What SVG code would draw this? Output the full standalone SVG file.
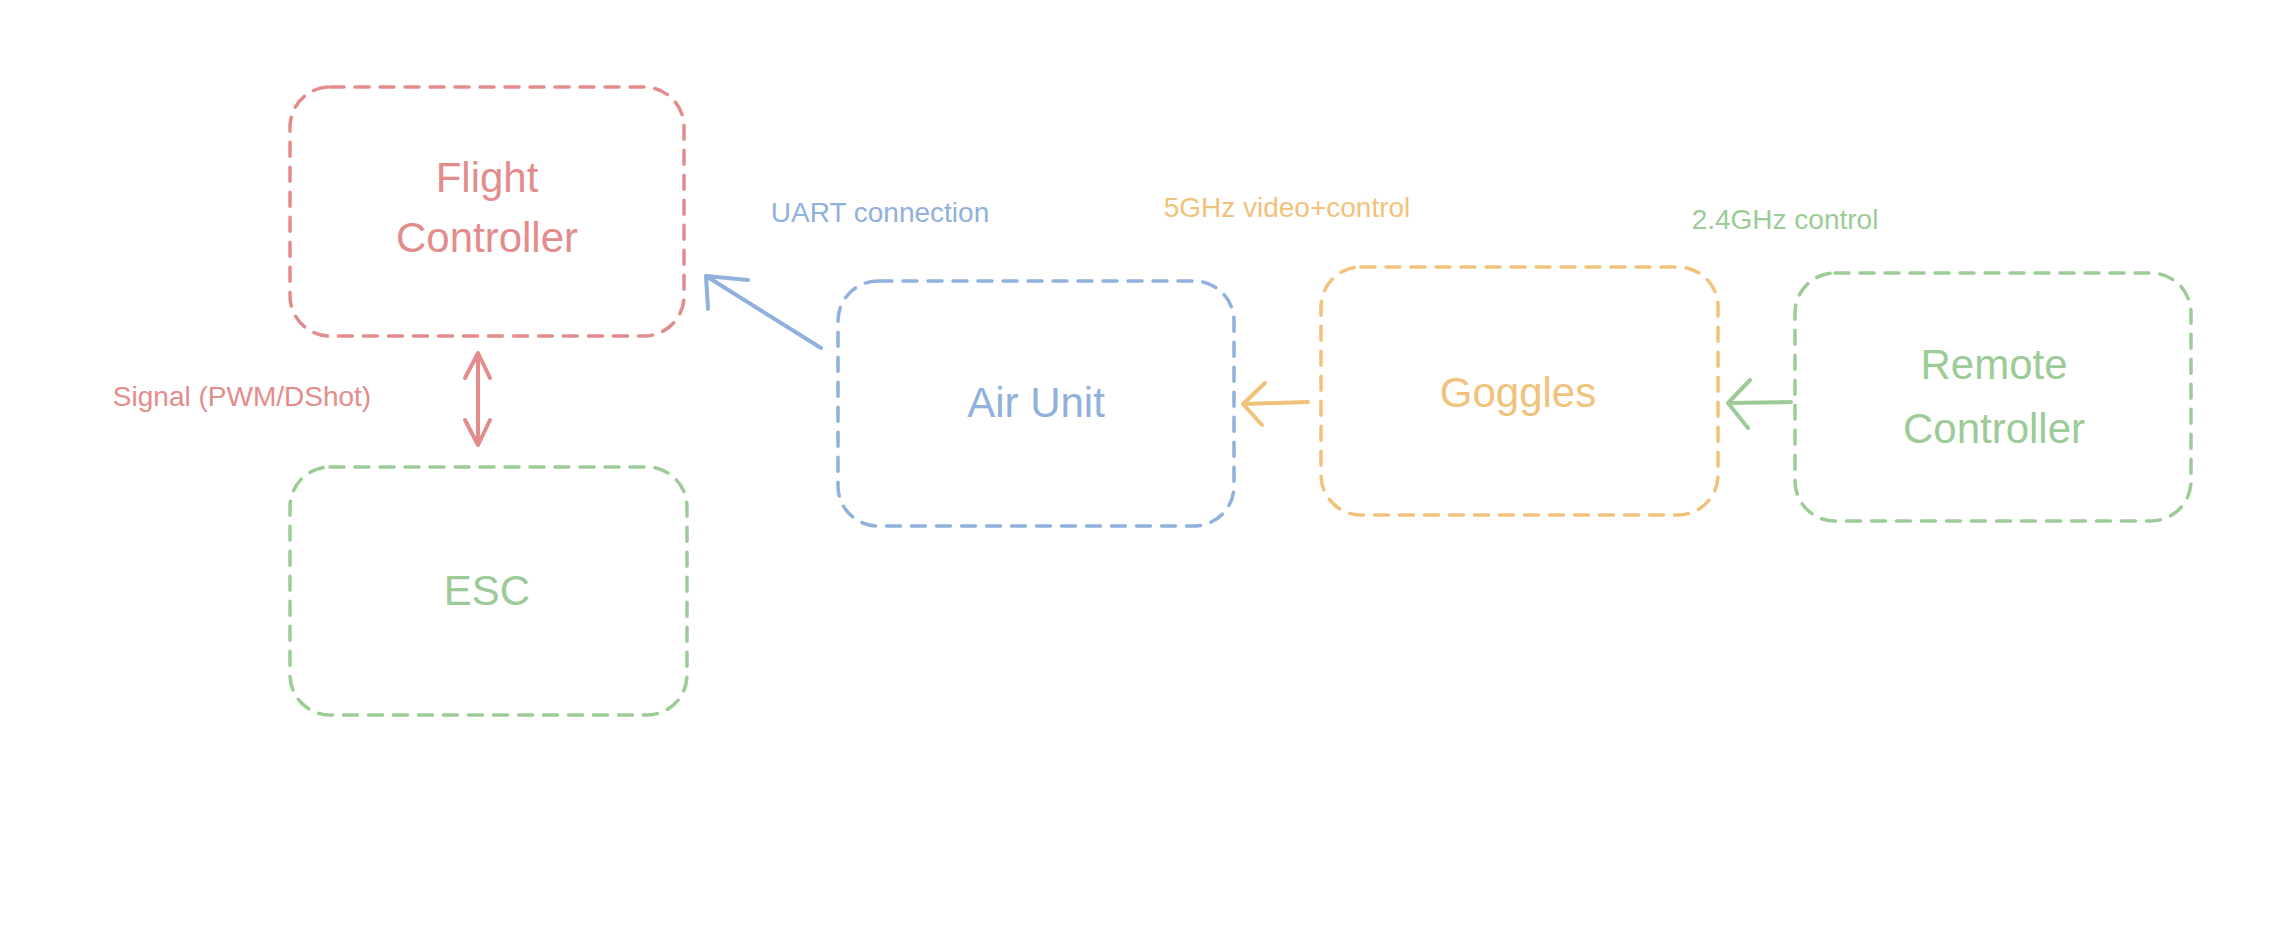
<svg xmlns="http://www.w3.org/2000/svg" width="2274" height="944" viewBox="0 0 2274 944">
<style>
.box{fill:none;stroke-width:3.5;stroke-dasharray:14 11;stroke-linecap:round}
.t{font-family:"Liberation Sans",sans-serif;text-anchor:middle}
.big{font-size:42px}
.lbl{font-size:28px}
.r{fill:#e38c8c;stroke:#e38c8c}.b{fill:#8fb1dc;stroke:#8fb1dc}.o{fill:#f0c27b;stroke:#f0c27b}.g{fill:#9ccb97;stroke:#9ccb97}
text.r,text.b,text.o,text.g{stroke:none}
.ln{fill:none;stroke-width:4;stroke-linecap:round;stroke-linejoin:round}
</style>
<rect width="2274" height="944" fill="#fff"/>
<g id="flight-controller"><rect class="box r" style="fill:none" x="290" y="87" width="394" height="249" rx="40"/><text class="t big r" x="487" y="192">Flight</text><text class="t big r" x="487" y="252">Controller</text></g>
<g id="esc"><rect class="box g" style="fill:none" x="290" y="467" width="397" height="248" rx="40"/><text class="t big g" x="487" y="605">ESC</text></g>
<g id="air-unit"><rect class="box b" style="fill:none" x="838" y="281" width="396" height="245" rx="40"/><text class="t big b" x="1036" y="417">Air Unit</text></g>
<g id="goggles"><rect class="box o" style="fill:none" x="1321" y="267" width="397" height="248" rx="40"/><text class="t big o" x="1518" y="407">Goggles</text></g>
<g id="remote-controller"><rect class="box g" style="fill:none" x="1795" y="273" width="396" height="248" rx="40"/><text class="t big g" x="1994" y="379">Remote</text><text class="t big g" x="1994" y="443">Controller</text></g>
<g id="labels">
<text class="t lbl b" x="880" y="222">UART connection</text>
<text class="t lbl o" x="1287" y="217">5GHz video+control</text>
<text class="t lbl g" x="1785" y="229">2.4GHz control</text>
<text class="t lbl r" x="242" y="406">Signal (PWM/DShot)</text>
</g>
<g id="connectors">
<path class="ln b" d="M821 348 L706 276 M706 276 L708 309 M706 276 L748 280"/>
<path class="ln r" d="M478 353 L478 445 M465 378 L478 353 L490 378 M465 420 L478 445 L490 420"/>
<path class="ln o" d="M1308 402 L1243 404 M1265 383 L1243 404 L1262 425"/>
<path class="ln g" d="M1791 402 L1728 403 M1750 380 L1728 403 L1748 428"/>
</g>
</svg>
